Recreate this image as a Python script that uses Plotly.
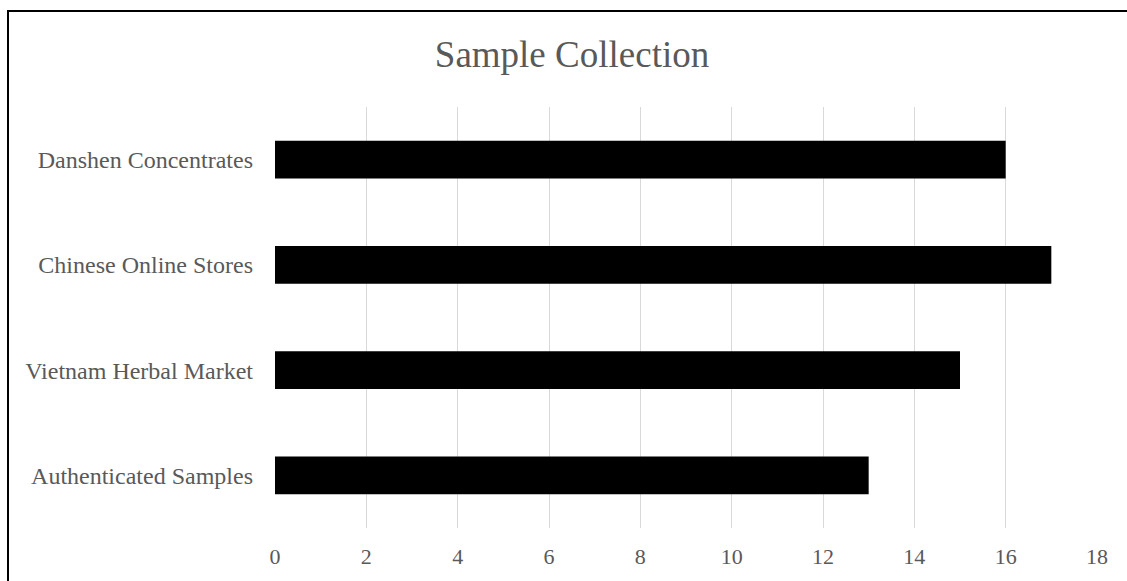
import plotly.graph_objects as go

# Sample counts by source (listed bottom to top as drawn)
sources = [
    "Authenticated Samples",
    "Vietnam Herbal Market",
    "Chinese Online Stores",
    "Danshen Concentrates",
]
counts = [13, 15, 17, 16]
x_ticks = [0, 2, 4, 6, 8, 10, 12, 14, 16, 18]

W, H = 1127, 581
L, R, T, B = 275, 30, 107, 53
pw, ph = W - L - R, H - T - B

font_family = "Liberation Serif"
text_gray = "#595959"

fig = go.Figure(
    go.Bar(
        x=counts,
        y=sources,
        orientation="h",
        marker=dict(color="#000000", line=dict(width=0)),
        hoverinfo="x+y",
    )
)

# Outer chart frame (left and top edges visible; right/bottom run past the canvas)
def px_to_paper_x(px):
    return (px - L) / pw

def px_to_paper_y(py):
    return (H - B - py) / ph

fig.add_shape(
    type="rect",
    xref="paper", yref="paper",
    x0=px_to_paper_x(8), x1=px_to_paper_x(1160),
    y0=px_to_paper_y(620), y1=px_to_paper_y(11),
    line=dict(color="#000000", width=2),
    fillcolor="rgba(0,0,0,0)",
    layer="above",
)

fig.update_layout(
    width=W,
    height=H,
    margin=dict(l=L, r=R, t=T, b=B, autoexpand=False),
    paper_bgcolor="white",
    plot_bgcolor="white",
    bargap=0.64,
    showlegend=False,
    font=dict(family=font_family, color=text_gray, size=23),
    title=dict(
        text="Sample Collection",
        font=dict(family=font_family, size=37, color=text_gray),
        x=572 / W,
        xref="container",
        xanchor="center",
        y=1 - 54 / H,
        yref="container",
        yanchor="middle",
    ),
    xaxis=dict(
        range=[0, 18],
        tickvals=x_ticks,
        showgrid=True,
        gridcolor="#d9d9d9",
        gridwidth=1.3,
        zeroline=False,
        showline=False,
        ticks="",
        ticklabelstandoff=13,
        tickfont=dict(family=font_family, size=22, color=text_gray),
    ),
    yaxis=dict(
        showgrid=False,
        zeroline=False,
        showline=False,
        ticks="",
        ticklabelstandoff=21,
        tickfont=dict(family=font_family, size=24, color=text_gray),
    ),
)

fig.write_html("out.html")
